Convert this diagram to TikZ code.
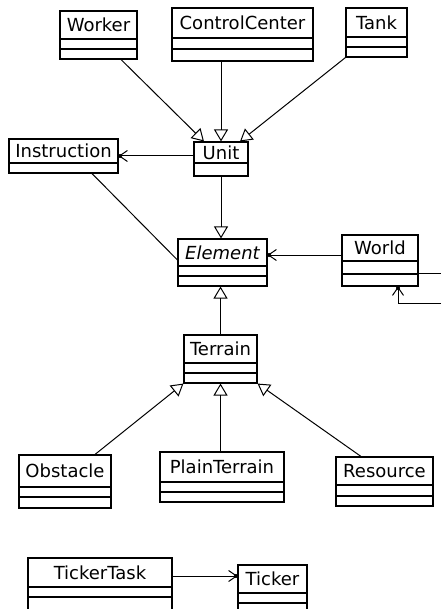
\documentclass[tikz,border=0pt]{standalone}
\usepackage{fontspec}
\setmainfont{DejaVu Sans}
\usetikzlibrary{arrows.meta,fit}
\tikzset{
  box/.style={draw, inner sep=0pt, line width=1.1pt},
  cline/.style={line width=1.1pt},
  lbl/.style={font=\fontsize{18}{21}\selectfont, inner sep=0pt},
  conn/.style={line width=1pt},
  gen/.style={conn, -{Triangle[open,length=12pt,width=14pt,line width=1pt]}},
  nav/.style={conn, -{Straight Barb[length=8pt,width=11pt,line width=1pt]}},
  navdot/.style={fill, inner sep=0pt, minimum size=4pt, circle},
}
\newcommand\umlclass[8]{%
  \node[box, fit={(#2,#3) (#4,#5)}] (#1) {};
  \draw[cline] (#2,#6) -- (#4,#6);
  \ifx\relax#7\relax\else\draw[cline] (#2,#7) -- (#4,#7);\fi
  \node[lbl] (#1-name) at ({(#2+#4)/2},{(#3+#6)/2}) {#8};
}
\begin{document}
\begin{tikzpicture}[x=1pt,y=-1pt]
\useasboundingbox (0,0) rectangle (441,609);
\clip (0,0) rectangle (441,609);
% classes
\umlclass{Worker}{60}{11}{137}{59}{39}{49}{Worker}
\umlclass{CC}{172}{8}{313}{61}{38}{49}{ControlCenter}
\umlclass{Tank}{346}{8}{407}{57}{37}{47}{Tank}
\umlclass{Unit}{194}{142}{248}{176}{163}{}{Unit}
\umlclass{Instruction}{9}{139}{118}{173}{163}{}{Instruction}
\umlclass{Element}{178}{239}{267}{286}{266}{276}{\itshape Element}
\umlclass{World}{342}{235}{418}{286}{261}{274}{World}
\umlclass{Terrain}{184}{335}{257}{383}{363}{373}{Terrain}
\umlclass{Obstacle}{19}{455}{111}{508}{487}{497}{Obstacle}
\umlclass{Plain}{160}{452}{284}{502}{482}{492}{PlainTerrain}
\umlclass{Resource}{336}{457}{433}{506}{485}{496}{Resource}
\umlclass{TickerTask}{28}{558}{172}{614}{587}{597}{TickerTask}
\umlclass{Ticker}{238}{565}{307}{614}{593}{603}{Ticker}
% generalizations
\draw[gen] ([xshift=22.5pt]Worker.south) -- ([xshift=-17pt]Unit.north);
\draw[gen] (CC.south -| Unit.north) -- (Unit.north);
\draw[gen] (Tank.south west) -- ([xshift=19pt]Unit.north);
\draw[gen] (Unit.south) -- (Unit.south |- Element.north);
\draw[gen] (Terrain.north) -- (Terrain.north |- Element.south);
\draw[gen] ([xshift=30pt]Obstacle.north) -- (Terrain.south west);
\draw[gen] (Plain.north -| Terrain.south) -- (Terrain.south);
\draw[gen] ([xshift=-23.5pt]Resource.north) -- (Terrain.south east);
% associations
\coordinate (ui) at (Unit.west |- Instruction.east);
\draw[nav] (ui) -- (Instruction.east);
\node[navdot] (d1) at ([xshift=1.5pt]Instruction.east) {};
\draw[conn] ([xshift=28.5pt]Instruction.south) -- ([yshift=2.5pt]Element.west);
\coordinate (wa) at ([yshift=5.5pt]World.west);
\coordinate (we) at (wa -| Element.east);
\draw[nav] (wa) -- (we);
\node[navdot] (d2) at ([xshift=1.5pt]we) {};
\coordinate (wr) at (441,273);
\draw[conn] (wr -| World.east) -- (wr);
\coordinate (ws) at (441,303);
\coordinate (wb) at ([xshift=18pt]World.south);
\draw[nav] (ws) -- (ws -| wb) -- (wb);
\node[navdot] (d3) at ([yshift=-1.5pt]wb) {};
\coordinate (tt) at ([yshift=10pt]TickerTask.east);
\coordinate (tk) at (tt -| Ticker.west);
\draw[nav] (tt) -- (tk);
\node[navdot] (d4) at ([xshift=-1.5pt]tk) {};
\end{tikzpicture}
\end{document}
